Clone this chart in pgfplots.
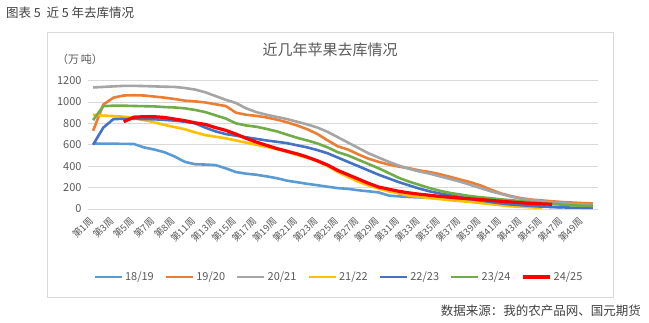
\documentclass[border=0pt]{standalone}
\usepackage{pgfplots}
\pgfplotsset{compat=1.18}
\usepackage{pgfplotstable}
\usepackage{fontspec}
\setmainfont{Noto Sans CJK SC}
\definecolor{cA}{HTML}{5B9BD5}
\definecolor{cB}{HTML}{ED7D31}
\definecolor{cC}{HTML}{A5A5A5}
\definecolor{cD}{HTML}{FFC000}
\definecolor{cE}{HTML}{4472C4}
\definecolor{cF}{HTML}{70AD47}
\definecolor{cG}{HTML}{FF0000}
\definecolor{gridc}{HTML}{D9D9D9}
\definecolor{txt}{HTML}{595959}
\definecolor{dark}{HTML}{404040}
\pgfplotstableread{
w a b c d e f g
0 612 730 1135 880 600 830 nan
1 610 975 1140 872 760 960 nan
2 610 1040 1145 868 840 965 nan
3 608 1060 1150 862 842 965 815
4 607 1062 1150 850 842 962 858
5 575 1060 1148 830 840 960 862
6 555 1050 1145 810 838 958 862
7 530 1040 1142 785 832 952 855
8 490 1027 1140 765 825 948 840
9 440 1012 1130 745 815 940 825
10 418 1005 1115 715 800 925 805
11 415 995 1090 690 760 905 790
12 410 978 1055 675 725 875 760
13 380 962 1020 660 700 845 735
14 345 900 990 640 685 800 700
15 330 880 940 620 670 780 660
16 320 870 905 600 655 768 625
17 305 855 880 580 640 748 595
18 288 835 860 560 628 725 565
19 265 810 840 535 615 695 540
20 250 780 815 505 595 665 515
21 235 745 790 478 575 640 485
22 222 700 760 445 550 612 450
23 208 640 720 400 520 575 410
24 195 585 670 345 480 530 360
25 188 555 620 300 440 500 320
26 175 510 570 255 400 460 280
27 165 470 520 220 360 420 240
28 155 440 480 190 320 380 205
29 125 415 440 165 285 335 185
30 118 395 405 145 250 290 165
31 112 380 375 125 220 255 150
32 108 360 350 112 190 225 138
33 104 345 330 102 165 195 128
34 100 325 305 92 145 170 118
35 95 300 280 82 128 150 110
36 88 275 255 74 112 135 102
37 82 250 225 65 95 120 95
38 75 220 195 55 80 110 88
39 65 180 165 45 65 100 80
40 55 145 140 35 52 90 72
41 45 120 115 25 42 82 65
42 38 100 95 20 35 72 58
43 30 88 82 15 28 63 52
44 25 80 72 12 22 55 48
45 20 72 60 nan 18 48 44
46 15 65 53 nan 15 40 nan
47 nan 60 47 nan 13 35 nan
48 nan 55 42 nan 12 30 nan
49 nan 52 38 nan 12 28 nan
}\data
\begin{document}
\begin{tikzpicture}
\path[use as bounding box] (0pt,0pt) rectangle (649pt,322pt);
\draw[gridc, line width=0.8pt] (47pt,290pt) rectangle (613pt,25pt);
\node[anchor=west, font=\fontsize{12.5}{12.5}\selectfont, text=dark, inner sep=0pt] at (6pt,309pt) {图表 5\ \ 近 5 年去库情况};
\node[font=\fontsize{15}{15}\selectfont, text=txt, inner sep=0pt] at (330pt,272pt) {近几年苹果去库情况};
\node[font=\fontsize{11}{11}\selectfont, text=txt, inner sep=0pt] at (80pt,263pt) {（万\,吨）};
\node[anchor=east, font=\fontsize{12.5}{12.5}\selectfont, text=dark, inner sep=0pt] at (641pt,11pt) {数据来源：我的农产品网、国元期货};
\begin{axis}[
  at={(88pt,113pt)}, anchor=south west,
  scale only axis, width=510pt, height=128.5pt,
  xmin=-0.5, xmax=49.5, ymin=0, ymax=1200,
  unbounded coords=jump,
  axis line style={draw=none},
  major tick length=0pt,
  ymajorgrids, grid style={gridc, line width=0.8pt},
  ytick={0,200,...,1200},
  yticklabel style={/pgf/number format/1000 sep={}},
  xtick={0,2,...,48},
  xticklabels={第1周,第3周,第5周,第7周,第8周,第11周,第13周,第15周,第17周,第19周,第21周,第23周,第25周,第27周,第29周,第31周,第33周,第35周,第37周,第39周,第41周,第43周,第45周,第47周,第49周},
  /pgf/number format/assume math mode=true,
  yticklabel style={font=\fontsize{11}{11}\selectfont, text=txt, xshift=-3pt},
  xticklabel style={font=\fontsize{9.5}{9.5}\selectfont, text=txt, rotate=45, anchor=east, xshift=-5pt, yshift=-6pt},
  legend columns=7,
  legend style={at={(0.492,-0.529)}, anchor=center, draw=none, fill=none, font=\fontsize{11}{11}\selectfont, text=txt,
    /tikz/every odd column/.append style={column sep=0pt},
    /tikz/every even column/.append style={column sep=9pt}},
  legend image code/.code={\draw[#1] (0pt,0pt) -- (27pt,0pt);},
  every axis plot/.append style={line width=2.6pt, line join=round, mark=none},
]
\addplot[cA] table[x=w,y=a] {\data}; \addlegendentry{18/19}
\addplot[cB] table[x=w,y=b] {\data}; \addlegendentry{19/20}
\addplot[cC] table[x=w,y=c] {\data}; \addlegendentry{20/21}
\addplot[cD] table[x=w,y=d] {\data}; \addlegendentry{21/22}
\addplot[cE] table[x=w,y=e] {\data}; \addlegendentry{22/23}
\addplot[cF] table[x=w,y=f] {\data}; \addlegendentry{23/24}
\addplot[cG, line width=3.2pt] table[x=w,y=g] {\data}; \addlegendentry{24/25}
\end{axis}
\end{tikzpicture}
\end{document}
